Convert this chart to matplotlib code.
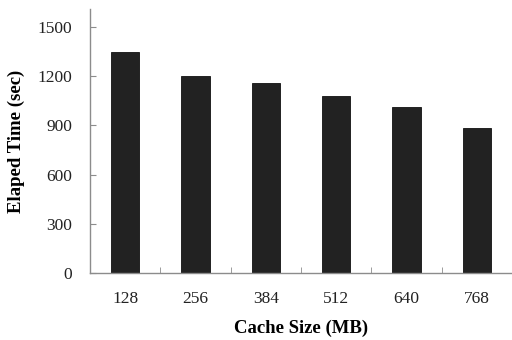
import numpy as np
import matplotlib.pyplot as plt

cache_sizes = ["128", "256", "384", "512", "640", "768"]
elapsed_time = [1350, 1200, 1160, 1080, 1010, 885]
y_ticks = [0, 300, 600, 900, 1200, 1500]

plt.rcParams["font.family"] = ["Liberation Serif", "DejaVu Serif"]

fig = plt.figure(figsize=(5.12, 3.40), dpi=100)
ax = fig.add_axes([90 / 512, 67 / 340, 422 / 512, 264 / 340])

x = np.arange(len(cache_sizes))
ax.bar(x, elapsed_time, width=0.4, color="#222222", edgecolor="#111111", linewidth=0.6)

ax.set_xlim(-0.5, len(cache_sizes) - 0.5)
ax.set_ylim(0, 1610)
ax.set_yticks(y_ticks)
ax.set_xticks(x)
ax.set_xticklabels(cache_sizes)
ax.set_xticks(np.arange(len(cache_sizes) + 1) - 0.5, minor=True)

axis_color = "#8c8c8c"
for side in ["top", "right"]:
    ax.spines[side].set_visible(False)
for side in ["left", "bottom"]:
    ax.spines[side].set_color(axis_color)
    ax.spines[side].set_linewidth(1.0)

ax.tick_params(axis="x", which="major", length=0, pad=13, labelsize=12.5, colors="#222222")
ax.tick_params(axis="x", which="minor", direction="in", length=4, color=axis_color)
ax.tick_params(axis="y", direction="in", length=4, color=axis_color, pad=13,
               labelsize=12.5, labelcolor="#222222")

ax.set_xlabel("Cache Size (MB)", fontsize=13.5, fontweight="bold", labelpad=9)
ax.set_ylabel("Elaped Time (sec)", fontsize=13.5, fontweight="bold", labelpad=9)

fig.savefig("out.png", dpi=100)
